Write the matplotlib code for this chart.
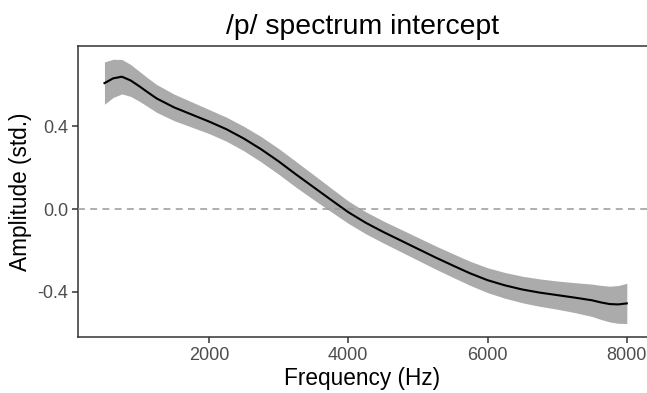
import numpy as np
import matplotlib
matplotlib.use("Agg")
import matplotlib.pyplot as plt

# smoothed /p/ spectrum intercept
freq = [500, 625, 750, 875, 1000, 1125, 1250, 1500, 1750, 2000, 2250, 2500,
        2750, 3000, 3250, 3500, 3750, 4000, 4250, 4500, 4750, 5000, 5250,
        5500, 5750, 6000, 6250, 6500, 6750, 7000, 7250, 7500, 7625, 7750,
        7875, 8000]
amp = [0.607, 0.630, 0.638, 0.620, 0.592, 0.562, 0.533, 0.490, 0.456, 0.422,
       0.385, 0.340, 0.288, 0.230, 0.167, 0.106, 0.045, -0.015, -0.066,
       -0.110, -0.151, -0.192, -0.233, -0.272, -0.310, -0.343, -0.368,
       -0.388, -0.403, -0.415, -0.427, -0.440, -0.450, -0.458, -0.460, -0.455]
half_ci = [0.102, 0.092, 0.083, 0.077, 0.072, 0.069, 0.067, 0.064, 0.061,
           0.058, 0.058, 0.059, 0.061, 0.062, 0.062, 0.060, 0.057, 0.054,
           0.053, 0.053, 0.054, 0.055, 0.056, 0.057, 0.058, 0.060, 0.062,
           0.064, 0.066, 0.068, 0.072, 0.078, 0.082, 0.086, 0.091, 0.097]

FONT = ["Liberation Sans", "DejaVu Sans"]
plt.rcParams["font.family"] = FONT

freq = np.array(freq)
amp = np.array(amp)
half_ci = np.array(half_ci)

fig = plt.figure(figsize=(6.47, 3.93), dpi=100)
ax = fig.add_axes([78 / 647, 1 - 337 / 393, 1 - 78 / 647, (337 - 46) / 393])

ax.fill_between(freq, amp - half_ci, amp + half_ci, color="#ababab", lw=0, zorder=1)
ax.plot(freq, amp, color="black", lw=1.5, zorder=2,
        solid_joinstyle="round")
ax.axhline(0, color="#999999", lw=1.1, ls=(0, (4.5, 3.5)), zorder=3)

ax.set_xlim(120, 8290)
ax.set_ylim(-0.617, 0.786)
ax.set_xticks([2000, 4000, 6000, 8000])
ax.set_yticks([-0.4, 0.0, 0.4])
ax.set_yticklabels(["-0.4", "0.0", "0.4"])

for side in ("left", "bottom", "top"):
    ax.spines[side].set_color("#333333")
    ax.spines[side].set_linewidth(1.1)
ax.spines["right"].set_visible(False)
ax.tick_params(colors="#333333", labelcolor="#4d4d4d", labelsize=13,
               length=4, width=1.1, pad=3)

ax.set_xlabel("Frequency (Hz)", fontsize=16.3, labelpad=2)
ax.set_ylabel("Amplitude (std.)", fontsize=16.3, labelpad=4)
ax.set_title("/p/ spectrum intercept", fontsize=20.4, pad=9)

fig.savefig("out.png", dpi=100)
